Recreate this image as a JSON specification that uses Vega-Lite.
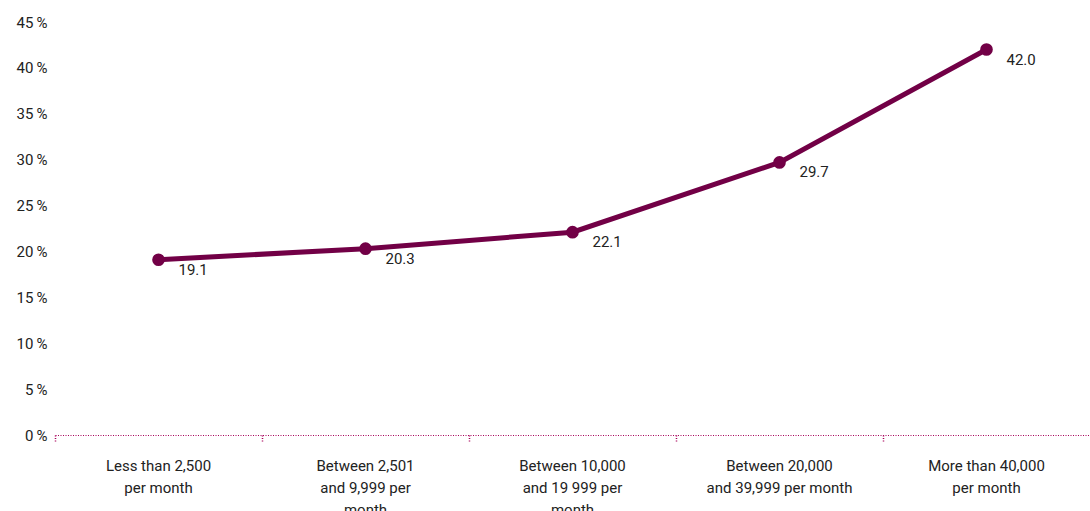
{
  "$schema": "https://vega.github.io/schema/vega-lite/v6.json",
  "width": 1035,
  "height": 413,
  "autosize": "none",
  "padding": {"left": 55, "top": 22, "right": 0, "bottom": 76},
  "background": "white",
  "config": {
    "view": {"stroke": null},
    "font": "Roboto"
  },
  "data": {
    "values": [
      {"category": "Less than 2,500|per month", "value": 19.1},
      {"category": "Between 2,501|and 9,999 per|month", "value": 20.3},
      {"category": "Between 10,000|and 19 999 per|month", "value": 22.1},
      {"category": "Between 20,000|and 39,999 per month", "value": 29.7},
      {"category": "More than 40,000|per month", "value": 42.0}
    ]
  },
  "encoding": {
    "x": {
      "field": "category",
      "type": "nominal",
      "sort": null,
      "scale": {"type": "band", "paddingInner": 0, "paddingOuter": 0},
      "axis": {
        "title": null,
        "labelAngle": 0,
        "labelExpr": "split(datum.label, '|')",
        "labelFont": "Roboto",
        "labelFontSize": 15,
        "labelColor": "#222222",
        "labelLineHeight": 22,
        "labelPadding": 16,
        "labelBaseline": "top",
        "bandPosition": 0,
        "domainColor": "#a8005a",
        "domainDash": [1, 1.5],
        "domainWidth": 1.2,
        "tickColor": "#a8005a",
        "tickDash": [1, 1.5],
        "tickSize": 7,
        "tickWidth": 1.5
      }
    },
    "y": {
      "field": "value",
      "type": "quantitative",
      "scale": {"domain": [0, 45], "nice": false},
      "axis": {
        "title": null,
        "values": [0, 5, 10, 15, 20, 25, 30, 35, 40, 45],
        "labelExpr": "datum.value + '\u2009%'",
        "labelFont": "Roboto",
        "labelFontSize": 15,
        "labelColor": "#222222",
        "labelPadding": 8,
        "grid": false,
        "domain": false,
        "ticks": false
      }
    }
  },
  "layer": [
    {
      "mark": {"type": "line", "color": "#720046", "strokeWidth": 5}
    },
    {
      "mark": {"type": "point", "filled": true, "color": "#720046", "size": 160, "opacity": 1}
    },
    {
      "mark": {"type": "text", "align": "left", "baseline": "middle", "dx": 20, "dy": 10, "fontSize": 15, "font": "Roboto", "color": "#222222"},
      "encoding": {
        "text": {"field": "value", "type": "quantitative", "format": ".1f"}
      }
    }
  ]
}
